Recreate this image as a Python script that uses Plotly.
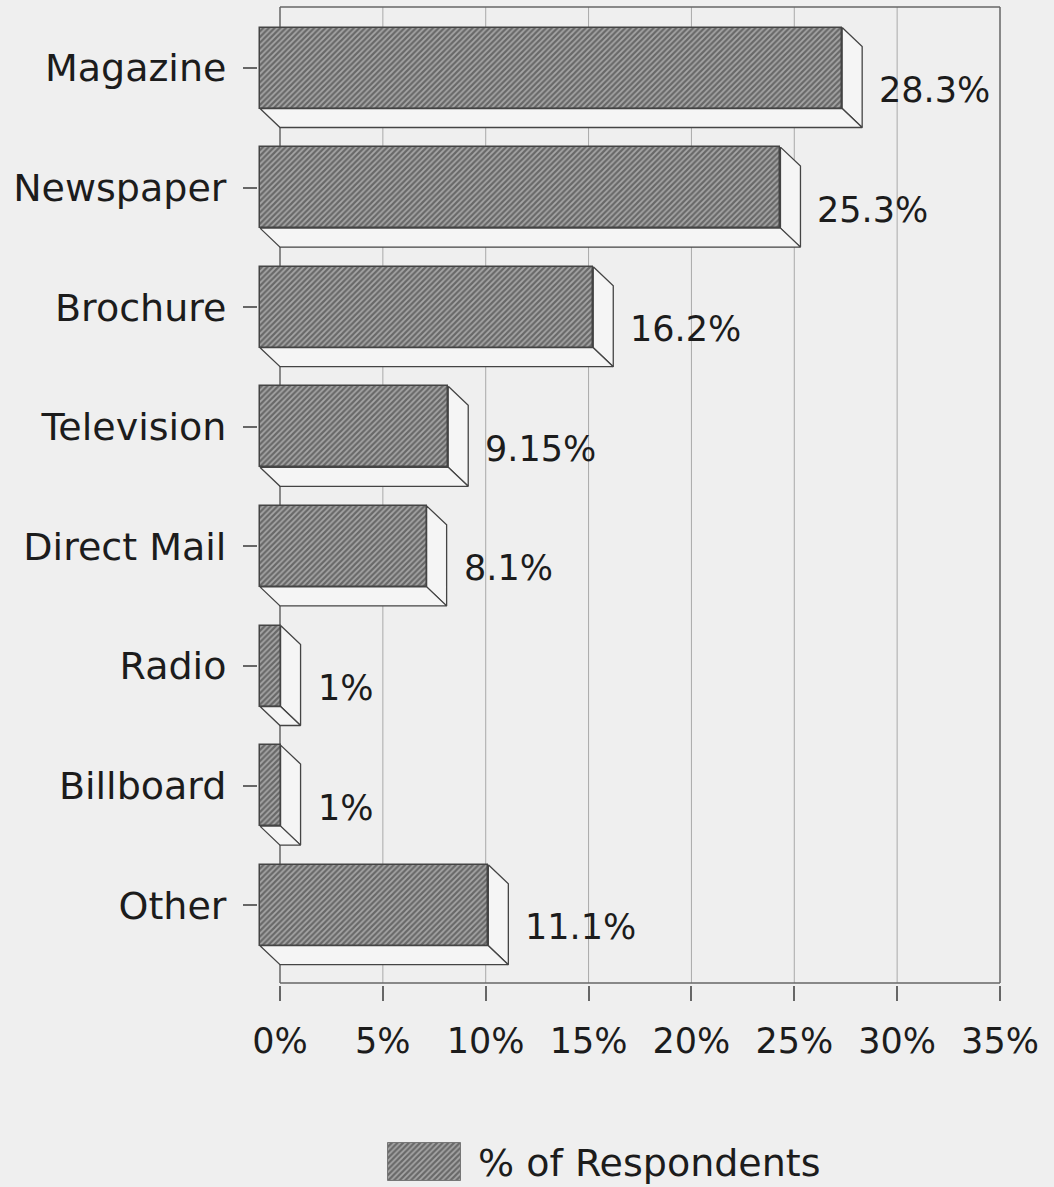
import plotly.graph_objects as go

# Advertising medium and share of respondents (%)
categories = ["Magazine", "Newspaper", "Brochure", "Television",
              "Direct Mail", "Radio", "Billboard", "Other"]
values = [28.3, 25.3, 16.2, 9.15, 8.1, 1, 1, 11.1]
value_labels = ["28.3%", "25.3%", "16.2%", "9.15%", "8.1%", "1%", "1%", "11.1%"]
x_ticks = [0, 5, 10, 15, 20, 25, 30, 35]
x_tick_text = ["0%", "5%", "10%", "15%", "20%", "25%", "30%", "35%"]
legend_name = "% of Respondents"

W, H = 1054, 1187
BG = "#efefef"
TEXT = "#1c1c1c"
EDGE = "#444444"
FONT = "DejaVu Sans"

# pixel layout of the main plot area
PX_L, PX_R, PX_T, PX_B = 258, 1004, 5, 985
X0_PX, X35_PX = 280, 1000          # back-wall positions of 0% and 35%
px_per_pct = (X35_PX - X0_PX) / 35.0
ROW0_PX, ROW_PX = 68, 119.6        # centre of first row, row pitch

x_range = [(PX_L - X0_PX) / px_per_pct, 35 + (PX_R - X35_PX) / px_per_pct]
y_range = [(PX_B - ROW0_PX) / ROW_PX, (PX_T - ROW0_PX) / ROW_PX]

# 3D depth offsets (data units)
DX = 20 / px_per_pct
DY = 19 / ROW_PX
BAR_W = 81 / ROW_PX
WALL_TOP = (7 - ROW0_PX) / ROW_PX
WALL_BOT = (983 - ROW0_PX) / ROW_PX

ypos = list(range(len(categories)))

fig = go.Figure()

# side (right) and bottom faces of each bar
for i, v in zip(ypos, values):
    top, bot = i - BAR_W / 2, i + BAR_W / 2
    fig.add_trace(go.Scatter(
        x=[v - DX, v, v, v - DX, v - DX],
        y=[top, top + DY, bot + DY, bot, top],
        mode="lines", fill="toself", fillcolor="#f5f5f5",
        line=dict(color=EDGE, width=1.3), hoverinfo="skip",
        showlegend=False, xaxis="x", yaxis="y"))
    fig.add_trace(go.Scatter(
        x=[-DX, v - DX, v, 0, -DX],
        y=[bot, bot, bot + DY, bot + DY, bot],
        mode="lines", fill="toself", fillcolor="#f5f5f5",
        line=dict(color=EDGE, width=1.3), hoverinfo="skip",
        showlegend=False, xaxis="x", yaxis="y"))

hatch = dict(shape="/", fgcolor="#2a2a2a", bgcolor="#a6a6a6",
             size=4, solidity=0.55)

# hatched front faces
fig.add_trace(go.Bar(
    y=ypos, x=values, base=[-DX] * len(values), orientation="h",
    width=BAR_W, name=legend_name,
    marker=dict(color="#a6a6a6", pattern=hatch,
                line=dict(color=EDGE, width=1.5)),
    hoverinfo="skip", showlegend=False, xaxis="x", yaxis="y"))

# legend swatch
fig.add_trace(go.Bar(
    y=[0.5], x=[1], orientation="h", width=1, name=legend_name,
    marker=dict(color="#a6a6a6", pattern=hatch,
                line=dict(color="#777777", width=1)),
    hoverinfo="skip", showlegend=False, xaxis="x2", yaxis="y2"))

shapes = []
# back wall grid lines
for t in x_ticks[1:-1]:
    shapes.append(dict(type="line", xref="x", yref="y", x0=t, x1=t,
                       y0=WALL_TOP, y1=WALL_BOT, layer="below",
                       line=dict(color="#a9a9a9", width=1)))
# back wall frame and base axis
frame = [(0, WALL_TOP, 35, WALL_TOP), (0, WALL_TOP, 0, WALL_BOT),
         (35, WALL_TOP, 35, WALL_BOT), (0, WALL_BOT, 35, WALL_BOT)]
for x0, y0, x1, y1 in frame:
    shapes.append(dict(type="line", xref="x", yref="y", x0=x0, x1=x1,
                       y0=y0, y1=y1, layer="below",
                       line=dict(color="#666666", width=1.5)))

annotations = []
for i, v, lab in zip(ypos, values, value_labels):
    annotations.append(dict(
        x=v, y=i + 22 / ROW_PX, xref="x", yref="y", text=lab,
        showarrow=False, xanchor="left", yanchor="middle", xshift=15,
        font=dict(family=FONT, size=35, color=TEXT)))
annotations.append(dict(
    x=476 / W, y=1 - 1163 / H, xref="paper", yref="paper", text=legend_name,
    showarrow=False, xanchor="left", yanchor="middle",
    font=dict(family=FONT, size=38, color=TEXT)))

fig.update_layout(
    width=W, height=H, autosize=False,
    margin=dict(l=0, r=0, t=0, b=0, autoexpand=False),
    paper_bgcolor=BG, plot_bgcolor=BG,
    bargap=0, barmode="overlay",
    shapes=shapes, annotations=annotations,
    xaxis=dict(domain=[PX_L / W, PX_R / W], range=x_range,
               tickvals=x_ticks, ticktext=x_tick_text, automargin=False,
               ticks="outside", ticklen=15, tickwidth=1.5, tickcolor="#666666",
               ticklabelstandoff=10, showgrid=False, zeroline=False,
               showline=False, anchor="y",
               tickfont=dict(family=FONT, size=35, color=TEXT)),
    yaxis=dict(domain=[1 - PX_B / H, 1 - PX_T / H], range=y_range,
               tickvals=ypos, ticktext=categories, automargin=False,
               ticks="outside", ticklen=14, tickwidth=1.5, tickcolor="#666666",
               ticklabelstandoff=9, showgrid=False, zeroline=False,
               showline=False, anchor="x",
               tickfont=dict(family=FONT, size=38, color=TEXT)),
    xaxis2=dict(domain=[387 / W, 462 / W], range=[-0.02, 1.02],
                visible=False, anchor="y2", fixedrange=True),
    yaxis2=dict(domain=[1 - 1182 / H, 1 - 1142 / H], range=[-0.03, 1.03],
                visible=False, anchor="x2", fixedrange=True),
)

fig.write_html("out.html")
